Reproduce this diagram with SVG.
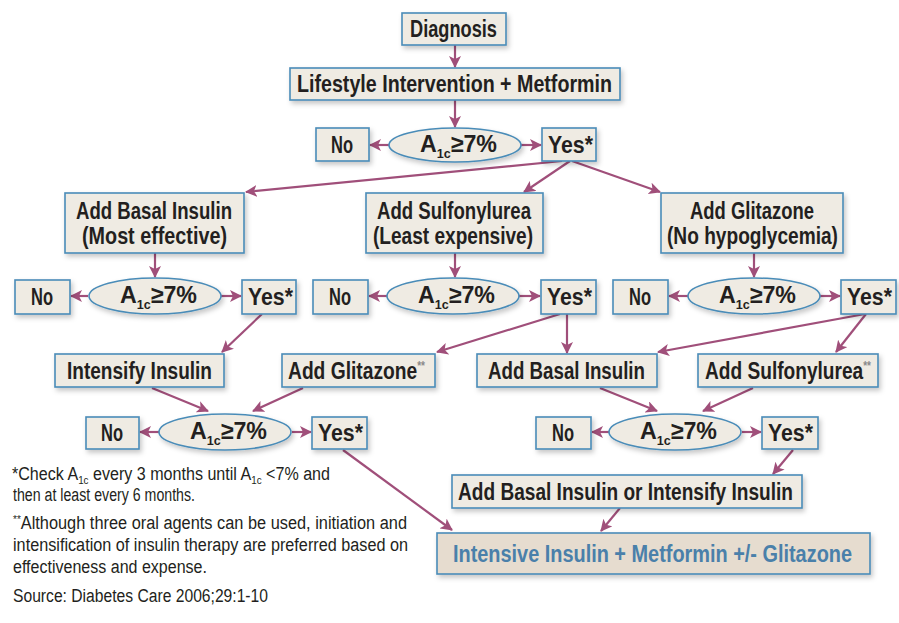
<svg xmlns="http://www.w3.org/2000/svg" width="899" height="623" viewBox="0 0 899 623">
<defs>
<filter id="sh" x="-10%" y="-20%" width="130%" height="160%">
<feDropShadow dx="2" dy="3" stdDeviation="2.5" flood-color="#000" flood-opacity="0.22"/>
</filter>
<marker id="ah" viewBox="0 0 12 12" refX="11" refY="6" markerWidth="12" markerHeight="12" markerUnits="userSpaceOnUse" orient="auto">
<path d="M0,0 L12,6 L0,12 L3,6 z" fill="#a04f7a"/>
</marker>
<style>
.box{fill:#efebe3;stroke:#4a8cb8;stroke-width:1.6;filter:url(#sh)}
.fin{fill:#e6dccf;stroke:#4a8cb8;stroke-width:1.6;filter:url(#sh)}
.ell{fill:#efebe3;stroke:#4a8cb8;stroke-width:1.6;filter:url(#sh)}
.t{font-family:"Liberation Sans Narrow","Liberation Sans",Arial,sans-serif;font-weight:bold;font-size:23px;fill:#231f20}
.tb{font-family:"Liberation Sans Narrow","Liberation Sans",Arial,sans-serif;font-weight:bold;font-size:23px;fill:#4a80aa}
.a{font-family:"Liberation Sans Narrow","Liberation Sans",Arial,sans-serif;font-weight:bold;font-size:24px;fill:#231f20}
.sub{font-size:13px}
.sup{font-size:12px;fill:#8a8a8a}
.f{font-family:"Liberation Sans Narrow","Liberation Sans",Arial,sans-serif;font-size:18px;fill:#231f20}
.fsub{font-size:11px}
.c{stroke:#a04f7a;stroke-width:2.2;fill:none;marker-end:url(#ah)}
</style>
</defs>
<rect width="899" height="623" fill="#fff"/>

<g id="connectors">
<line class="c" x1="455" y1="45" x2="455" y2="67"/>
<line class="c" x1="455" y1="100" x2="455" y2="127"/>
<line class="c" x1="389" y1="145" x2="370" y2="145"/>
<line class="c" x1="521" y1="145" x2="541" y2="145"/>
<line class="c" x1="562" y1="161" x2="246" y2="192"/>
<line class="c" x1="570" y1="161" x2="524" y2="192"/>
<line class="c" x1="572" y1="161" x2="660" y2="192"/>
<line class="c" x1="155" y1="253" x2="155" y2="277"/>
<line class="c" x1="88" y1="296" x2="71" y2="296"/>
<line class="c" x1="221" y1="296" x2="241" y2="296"/>
<line class="c" x1="455" y1="253" x2="455" y2="277"/>
<line class="c" x1="387" y1="296" x2="369" y2="296"/>
<line class="c" x1="519" y1="296" x2="540" y2="296"/>
<line class="c" x1="754" y1="253" x2="754" y2="277"/>
<line class="c" x1="688" y1="296" x2="669" y2="296"/>
<line class="c" x1="820" y1="296" x2="840" y2="296"/>
<line class="c" x1="262" y1="314" x2="222" y2="352"/>
<line class="c" x1="560" y1="314" x2="437" y2="352"/>
<line class="c" x1="567" y1="314" x2="567" y2="353"/>
<line class="c" x1="865" y1="314" x2="658" y2="352"/>
<line class="c" x1="866" y1="314" x2="836" y2="352"/>
<line class="c" x1="152" y1="388" x2="208" y2="411"/>
<line class="c" x1="303" y1="388" x2="253" y2="411"/>
<line class="c" x1="159" y1="432" x2="140" y2="432"/>
<line class="c" x1="292" y1="432" x2="311" y2="432"/>
<line class="c" x1="600" y1="388" x2="657" y2="411"/>
<line class="c" x1="753" y1="388" x2="703" y2="411"/>
<line class="c" x1="609" y1="432" x2="592" y2="432"/>
<line class="c" x1="742" y1="432" x2="761" y2="432"/>
<line class="c" x1="793" y1="450" x2="773" y2="474"/>
<line class="c" x1="620" y1="508" x2="601" y2="531"/>
<line class="c" x1="343" y1="450" x2="452" y2="530"/>
</g>

<g id="diagnosis"><rect class="box" x="402" y="13" width="104" height="32"/><text class="t" x="410" y="37" textLength="87" lengthAdjust="spacingAndGlyphs">Diagnosis</text></g>
<g id="lifestyle"><rect class="box" x="290" y="68" width="330" height="32"/><text class="t" x="297" y="92" textLength="315" lengthAdjust="spacingAndGlyphs">Lifestyle Intervention + Metformin</text></g>

<g id="a1c-1"><ellipse class="ell" cx="455" cy="145" rx="66" ry="17"/><text class="a" x="420" y="152" textLength="77" lengthAdjust="spacingAndGlyphs">A<tspan class="sub" dy="6">1c</tspan><tspan dy="-6">≥7%</tspan></text></g>
<g id="no-1"><rect class="box" x="316" y="128" width="53" height="33"/><text class="t" x="331" y="153" textLength="22" lengthAdjust="spacingAndGlyphs">No</text></g>
<g id="yes-1"><rect class="box" x="542" y="128" width="54" height="33"/><text class="t" x="548" y="153" textLength="45" lengthAdjust="spacingAndGlyphs">Yes*</text></g>

<g id="basal"><rect class="box" x="65" y="193" width="179" height="60"/><text class="t" x="76" y="219" textLength="156" lengthAdjust="spacingAndGlyphs">Add Basal Insulin</text><text class="t" x="82" y="244" textLength="145" lengthAdjust="spacingAndGlyphs">(Most effective)</text></g>
<g id="sulfonylurea"><rect class="box" x="366" y="193" width="177" height="60"/><text class="t" x="377" y="219" textLength="154" lengthAdjust="spacingAndGlyphs">Add Sulfonylurea</text><text class="t" x="373" y="244" textLength="160" lengthAdjust="spacingAndGlyphs">(Least expensive)</text></g>
<g id="glitazone"><rect class="box" x="661" y="193" width="182" height="60"/><text class="t" x="690" y="219" textLength="124" lengthAdjust="spacingAndGlyphs">Add Glitazone</text><text class="t" x="667" y="244" textLength="171" lengthAdjust="spacingAndGlyphs">(No hypoglycemia)</text></g>

<g id="a1c-2l"><ellipse class="ell" cx="155" cy="296" rx="66" ry="18"/><text class="a" x="120" y="303" textLength="77" lengthAdjust="spacingAndGlyphs">A<tspan class="sub" dy="6">1c</tspan><tspan dy="-6">≥7%</tspan></text></g>
<g id="no-2l"><rect class="box" x="15" y="280" width="55" height="34"/><text class="t" x="31" y="305" textLength="22" lengthAdjust="spacingAndGlyphs">No</text></g>
<g id="yes-2l"><rect class="box" x="242" y="280" width="54" height="34"/><text class="t" x="248" y="305" textLength="45" lengthAdjust="spacingAndGlyphs">Yes*</text></g>

<g id="a1c-2m"><ellipse class="ell" cx="453" cy="296" rx="66" ry="18"/><text class="a" x="418" y="303" textLength="77" lengthAdjust="spacingAndGlyphs">A<tspan class="sub" dy="6">1c</tspan><tspan dy="-6">≥7%</tspan></text></g>
<g id="no-2m"><rect class="box" x="313" y="280" width="55" height="34"/><text class="t" x="329" y="305" textLength="22" lengthAdjust="spacingAndGlyphs">No</text></g>
<g id="yes-2m"><rect class="box" x="541" y="280" width="55" height="34"/><text class="t" x="547" y="305" textLength="45" lengthAdjust="spacingAndGlyphs">Yes*</text></g>

<g id="a1c-2r"><ellipse class="ell" cx="754" cy="296" rx="66" ry="18"/><text class="a" x="719" y="303" textLength="77" lengthAdjust="spacingAndGlyphs">A<tspan class="sub" dy="6">1c</tspan><tspan dy="-6">≥7%</tspan></text></g>
<g id="no-2r"><rect class="box" x="613" y="280" width="55" height="34"/><text class="t" x="629" y="305" textLength="22" lengthAdjust="spacingAndGlyphs">No</text></g>
<g id="yes-2r"><rect class="box" x="841" y="280" width="55" height="34"/><text class="t" x="847" y="305" textLength="45" lengthAdjust="spacingAndGlyphs">Yes*</text></g>

<g id="intensify"><rect class="box" x="55" y="354" width="169" height="33"/><text class="t" x="67" y="379" textLength="145" lengthAdjust="spacingAndGlyphs">Intensify Insulin</text></g>
<g id="add-glitazone-2"><rect class="box" x="282" y="354" width="153" height="33"/><text class="t" x="288" y="379" textLength="137" lengthAdjust="spacingAndGlyphs">Add Glitazone<tspan class="sup" dy="-9">**</tspan></text></g>
<g id="add-basal-2"><rect class="box" x="477" y="354" width="180" height="33"/><text class="t" x="488" y="379" textLength="157" lengthAdjust="spacingAndGlyphs">Add Basal Insulin</text></g>
<g id="add-sulf-2"><rect class="box" x="698" y="354" width="180" height="33"/><text class="t" x="705" y="379" textLength="166" lengthAdjust="spacingAndGlyphs">Add Sulfonylurea<tspan class="sup" dy="-9">**</tspan></text></g>

<g id="a1c-3l"><ellipse class="ell" cx="225" cy="432" rx="66" ry="18"/><text class="a" x="190" y="439" textLength="77" lengthAdjust="spacingAndGlyphs">A<tspan class="sub" dy="6">1c</tspan><tspan dy="-6">≥7%</tspan></text></g>
<g id="no-3l"><rect class="box" x="86" y="417" width="53" height="32"/><text class="t" x="101" y="441" textLength="22" lengthAdjust="spacingAndGlyphs">No</text></g>
<g id="yes-3l"><rect class="box" x="312" y="417" width="55" height="32"/><text class="t" x="318" y="441" textLength="45" lengthAdjust="spacingAndGlyphs">Yes*</text></g>

<g id="a1c-3r"><ellipse class="ell" cx="675" cy="432" rx="66" ry="18"/><text class="a" x="640" y="439" textLength="77" lengthAdjust="spacingAndGlyphs">A<tspan class="sub" dy="6">1c</tspan><tspan dy="-6">≥7%</tspan></text></g>
<g id="no-3r"><rect class="box" x="536" y="417" width="55" height="32"/><text class="t" x="552" y="441" textLength="22" lengthAdjust="spacingAndGlyphs">No</text></g>
<g id="yes-3r"><rect class="box" x="762" y="417" width="56" height="32"/><text class="t" x="768" y="441" textLength="45" lengthAdjust="spacingAndGlyphs">Yes*</text></g>

<g id="basal-or-intensify"><rect class="box" x="452" y="475" width="350" height="33"/><text class="t" x="458" y="500" textLength="335" lengthAdjust="spacingAndGlyphs">Add Basal Insulin or Intensify Insulin</text></g>
<g id="final"><rect class="fin" x="437" y="533" width="433" height="41"/><text class="tb" x="453" y="562" textLength="399" lengthAdjust="spacingAndGlyphs">Intensive Insulin + Metformin +/- Glitazone</text></g>

<g id="footnotes">
<text class="f" x="12" y="480" textLength="318" lengthAdjust="spacingAndGlyphs">*Check A<tspan class="fsub" dy="4">1c</tspan><tspan dy="-4"> every 3 months until A</tspan><tspan class="fsub" dy="4">1c</tspan><tspan dy="-4"> &lt;7% and</tspan></text>
<text class="f" x="13" y="501" textLength="182" lengthAdjust="spacingAndGlyphs">then at least every 6 months.</text>
<text class="f" x="13" y="529" textLength="394" lengthAdjust="spacingAndGlyphs"><tspan class="fsub" dy="-6">**</tspan><tspan dy="6">Although three oral agents can be used, initiation and</tspan></text>
<text class="f" x="13" y="551" textLength="395" lengthAdjust="spacingAndGlyphs">intensification of insulin therapy are preferred based on</text>
<text class="f" x="13" y="573" textLength="194" lengthAdjust="spacingAndGlyphs">effectiveness and expense.</text>
<text class="f" x="13" y="602" textLength="255" lengthAdjust="spacingAndGlyphs">Source: Diabetes Care 2006;29:1-10</text>
</g>
</svg>
